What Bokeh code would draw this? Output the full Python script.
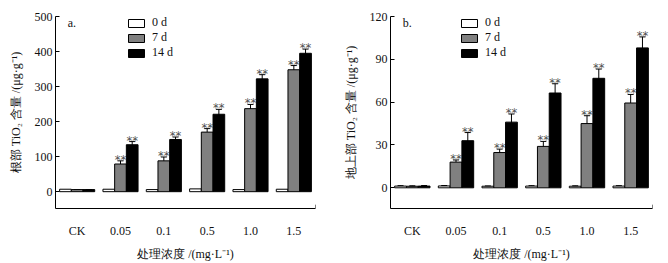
import numpy as np
from bokeh.plotting import figure
from bokeh.models import (ColumnDataSource, Range1d, FixedTicker, Whisker, TeeHead, Label)
from bokeh.layouts import row
from bokeh.core.properties import value
from bokeh.embed import file_html
from bokeh.resources import INLINE

categories = ["CK", "0.05", "0.1", "0.5", "1.0", "1.5"]
series = ["0 d", "7 d", "14 d"]

# panel a: root TiO2 content (ug/g)
root_0d = [7, 7, 6, 8, 6, 7]
root_7d = [6, 79, 88, 170, 237, 348]
root_14d = [6, 134, 149, 221, 322, 395]
root_err_0d = [0, 0, 0, 0, 0, 0]
root_err_7d = [0, 9, 11, 10, 12, 12]
root_err_14d = [0, 9, 7, 14, 12, 12]

# panel b: shoot TiO2 content (ug/g)
shoot_0d = [1.2, 1.3, 1.1, 1.2, 1.1, 1.2]
shoot_7d = [1.1, 18, 24.7, 29, 45, 59.4]
shoot_14d = [1.2, 33, 46, 66.4, 76.7, 98]
shoot_err_0d = [0.3, 0.3, 0.2, 0.3, 0.3, 0.3]
shoot_err_7d = [0.3, 1.5, 2.4, 3.5, 5.5, 6]
shoot_err_14d = [0.4, 5.7, 5.7, 6.5, 6.5, 7.7]

sig_root_7d = ["", "**", "**", "**", "**", "**"]
sig_root_14d = ["", "**", "**", "**", "**", "**"]
sig_shoot_7d = ["", "**", "**", "**", "**", "**"]
sig_shoot_14d = ["", "**", "**", "**", "**", "**"]

FONT = "Liberation Serif"
colors = ["white", "#808080", "black"]
BW = 0.27
offsets = [-BW, 0.0, BW]


def make_panel(vals, errs, sigs, ylo, yhi, yticks, ylabel, tag, tag_y,
               border_left, border_right, leg_x):
    p = figure(width=334, height=263, output_backend="svg", toolbar_location=None,
               x_range=Range1d(0, len(categories)), y_range=Range1d(ylo, yhi),
               min_border_left=border_left, min_border_right=border_right,
               min_border_top=16, min_border_bottom=51)
    p.outline_line_color = None
    p.xgrid.visible = False
    p.ygrid.visible = False
    centers = np.arange(len(categories)) + 0.5
    for k, (v, e, c, name, off) in enumerate(zip(vals, errs, colors, series, offsets)):
        x = centers + off
        src = ColumnDataSource(dict(x=x, top=v, upper=np.array(v) + np.array(e),
                                    lower=np.array(v) - np.array(e)))
        p.vbar(x="x", top="top", bottom=0, width=BW, source=src, fill_color=c,
               line_color="black", line_width=1, legend_label=name)
        if max(e) > 0:
            w = Whisker(base="x", upper="upper", lower="lower", source=src,
                        line_color="black", line_width=1,
                        upper_head=TeeHead(size=6, line_color="black", line_width=1),
                        lower_head=TeeHead(size=6, line_color="black", line_width=1))
            p.add_layout(w)
        if k > 0:
            s = sigs[k - 1]
            ssrc = ColumnDataSource(dict(x=x, y=np.array(v) + np.array(e), t=s))
            p.text(x="x", y="y", text="t", source=ssrc, text_align="center",
                   text_baseline="alphabetic", y_offset=-1,
                   text_font=value("DejaVu Sans"), text_font_size="11.5px",
                   text_color="#505050")
    # small end stub on x axis
    p.segment(x0=[len(categories)], x1=[len(categories)], y0=[ylo],
              y1=[ylo + (yhi - ylo) * 0.02], line_color="black", line_width=1)
    p.add_layout(Label(x=0.28, y=tag_y, text=tag, text_font=FONT, text_font_size="12px",
                       text_baseline="alphabetic", text_align="left", text_color="#111111"))

    xa = p.xaxis[0]
    xa.ticker = FixedTicker(ticks=list(centers))
    xa.major_label_overrides = {float(c): lab for c, lab in zip(centers, categories)}
    xa.major_tick_line_color = None
    xa.minor_tick_line_color = None
    xa.major_label_standoff = 9
    xa.major_label_text_font = FONT
    xa.major_label_text_font_size = "12px"
    xa.major_label_text_color = "#111111"
    xa.axis_label = "处理浓度 /(mg·L⁻¹)"
    xa.axis_label_text_font = FONT
    xa.axis_label_text_font_size = "12px"
    xa.axis_label_text_font_style = "normal"
    xa.axis_label_text_color = "#111111"
    xa.axis_label_standoff = 6
    xa.axis_line_color = "black"

    ya = p.yaxis[0]
    ya.ticker = FixedTicker(ticks=yticks)
    ya.major_tick_in = 4
    ya.major_tick_out = 0
    ya.minor_tick_line_color = None
    ya.major_label_standoff = 3
    ya.major_label_text_font = FONT
    ya.major_label_text_font_size = "12px"
    ya.major_label_text_color = "#111111"
    ya.axis_label = ylabel
    ya.axis_label_text_font = FONT
    ya.axis_label_text_font_size = "12px"
    ya.axis_label_text_font_style = "normal"
    ya.axis_label_text_color = "#111111"
    ya.axis_label_standoff = 9
    ya.axis_line_color = "black"

    lg = p.legend[0]
    lg.location = (leg_x, 148)
    lg.padding = 0
    lg.margin = 0
    lg.spacing = 0
    lg.glyph_width = 20
    lg.glyph_height = 10
    lg.label_height = 10
    lg.label_standoff = 6
    lg.border_line_color = None
    lg.background_fill_alpha = 0
    lg.label_text_font = FONT
    lg.label_text_font_size = "12px"
    lg.label_text_color = "#111111"
    return p


pa = make_panel([root_0d, root_7d, root_14d], [root_err_0d, root_err_7d, root_err_14d],
                [sig_root_7d, sig_root_14d], -48, 500, [0, 100, 200, 300, 400, 500],
                "根部 TiO₂ 含量 /(μg·g⁻¹)", "a.", 482, 55, 19, 71)
pb = make_panel([shoot_0d, shoot_7d, shoot_14d], [shoot_err_0d, shoot_err_7d, shoot_err_14d],
                [sig_shoot_7d, sig_shoot_14d], -14.5, 120, [0, 30, 60, 90, 120],
                "地上部 TiO₂ 含量 /(μg·g⁻¹)", "b.", 115.7, 56, 16, 69)

layout = row(pa, pb)
open("out.html", "w").write(file_html(layout, INLINE))
